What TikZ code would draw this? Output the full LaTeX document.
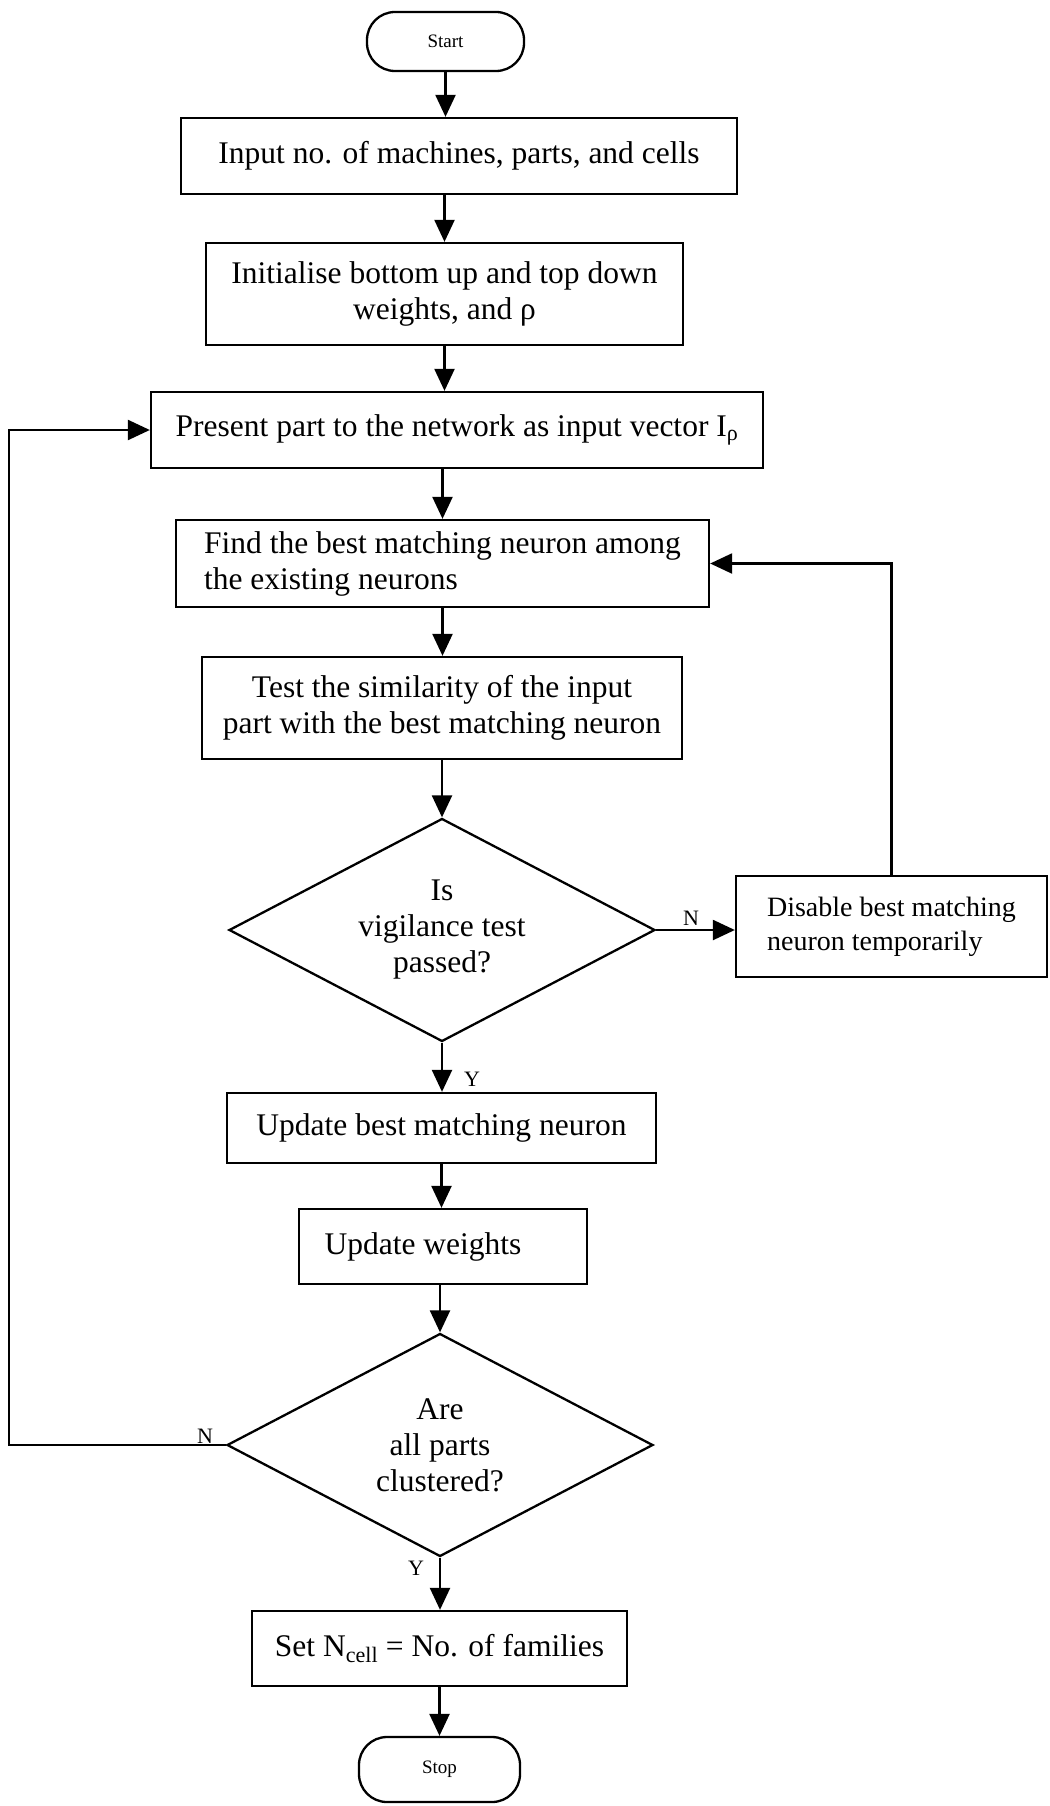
\documentclass[tikz,border=0pt]{standalone}
\usepackage{fontspec}
\setmainfont{Liberation Serif}
\usetikzlibrary{arrows.meta,shapes.geometric}
\begin{document}
\begin{tikzpicture}[x=1pt,y=-1pt,
  every node/.style={font=\fontsize{31.5}{36}\selectfont},
  box/.style={draw,line width=2.3pt,inner sep=0pt,align=center},
  term/.style={draw,line width=2.3pt,inner sep=0pt,rounded corners=28pt,
    font=\fontsize{19}{22}\selectfont},
  decision/.style={draw,diamond,line width=2.3pt,inner sep=0pt,aspect=1.91,
    minimum width=426pt,minimum height=223pt,align=center},
  lbl/.style={inner sep=0pt,font=\fontsize{22}{24}\selectfont},
  arr/.style={line width=2.3pt,-{Triangle[length=22pt,width=20pt]}}
]
\useasboundingbox (0,0) rectangle (1049,1806);

% process column
\node[term,minimum width=157pt,minimum height=59pt] (start) at (445.5,41.5) {Start};
\node[box,minimum width=556pt,minimum height=76pt] (b1) at (459,156)
  {Input no. of machines, parts, and cells};
\node[box,minimum width=477pt,minimum height=102pt] (b2) at (444.5,294)
  {Initialise bottom up and top down\\weights, and ρ};
\node[box,minimum width=612pt,minimum height=76pt] (b3) at (457,430)
  {Present part to the network as input vector I\textsubscript{ρ}};
\node[box,minimum width=533pt,minimum height=87pt,align=left] (b4) at (442.5,563.5)
  {Find the best matching neuron among\\the existing neurons};
\node[box,minimum width=480pt,minimum height=102pt] (b5) at (442,708)
  {Test the similarity of the input\\part with the best matching neuron};
\node[decision] (d1) at (442,930) {Is\\vigilance test\\passed?};
\node[box,minimum width=311pt,minimum height=101pt,align=left,
  font=\fontsize{28}{34}\selectfont] (dis) at (891.5,926.5)
  {Disable best matching\\neuron temporarily};
\node[box,minimum width=429pt,minimum height=70pt] (b6) at (441.5,1128)
  {Update best matching neuron};
\node[box,minimum width=288pt,minimum height=75pt] (b7) at (443,1246.5)
  {\hspace*{-40pt}Update weights};
\node[decision] (d2) at (440,1445) {Are\\all parts\\clustered?};
\node[box,minimum width=375pt,minimum height=75pt] (b8) at (439.5,1648.5)
  {Set N\textsubscript{cell} = No. of families};
\node[term,minimum width=161pt,minimum height=65pt] (stop) at (439.5,1769.5) {Stop};

% branch labels
\node[lbl] (n1) at (691,918) {N};
\node[lbl] (y1) at (472,1079) {Y};
\node[lbl] (n2) at (205,1436) {N};
\node[lbl] (y2) at (416,1568) {Y};

% connectors
\coordinate (loop) at (9,0);
\draw[arr] (start.south) -- (start.south |- b1.north);
\draw[arr] (b2.north |- b1.south) -- (b2.north);
\draw[arr] (b2.south) -- (b2.south |- b3.north);
\draw[arr] (b4.north |- b3.south) -- (b4.north);
\draw[arr] (b4.south) -- (b4.south |- b5.north);
\draw[arr] (b5.south) -- (b5.south |- d1.north);
\draw[arr] (d1.south) -- (d1.south |- b6.north);
\draw[arr] (d1.east) -- (d1.east -| dis.west);
\draw[arr] (dis.north) -- (dis.north |- b4.east) -- (b4.east);
\draw[arr] (b6.south) -- (b6.south |- b7.north);
\draw[arr] (d2.north |- b7.south) -- (d2.north);
\draw[arr] (d2.south) -- (d2.south |- b8.north);
\draw[arr] (b8.south) -- (b8.south |- stop.north);
\draw[arr] (d2.west) -- (d2.west -| loop) -- (loop |- b3.west) -- (b3.west);
\end{tikzpicture}
\end{document}
